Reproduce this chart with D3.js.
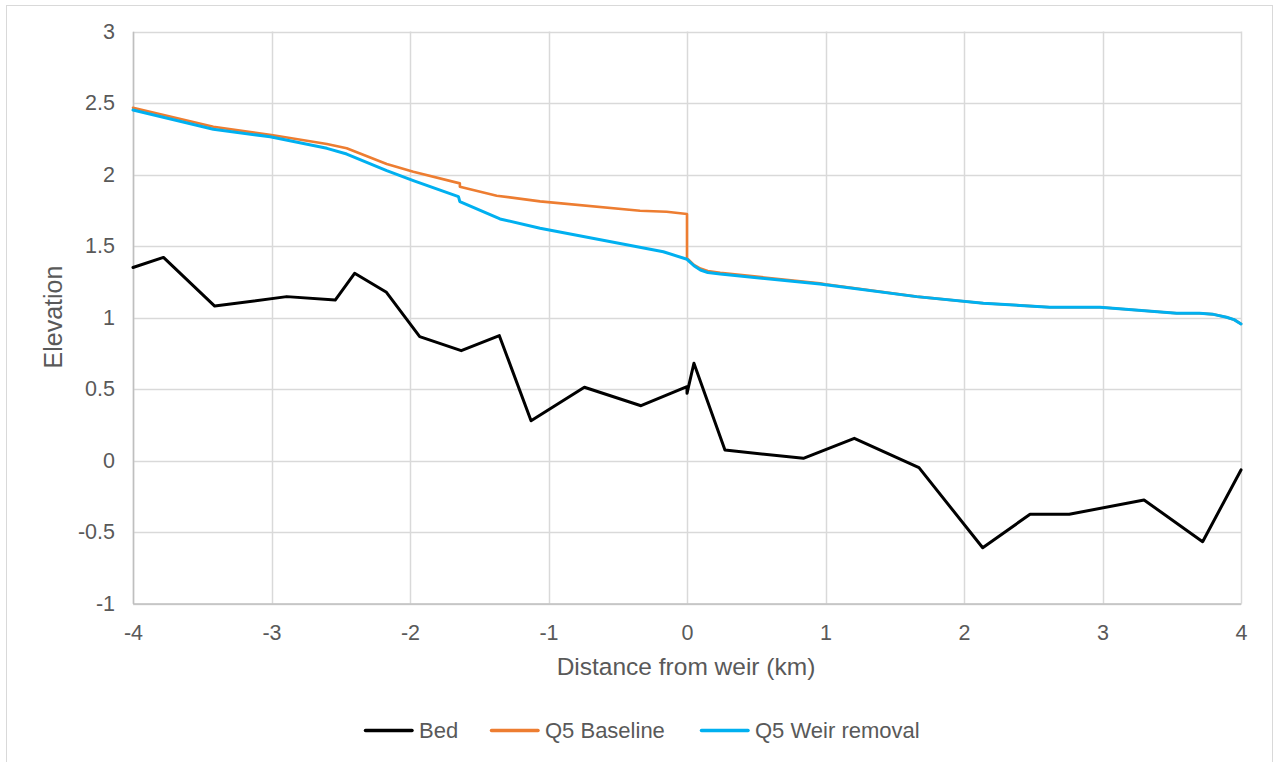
<!DOCTYPE html>
<html>
<head>
<meta charset="utf-8">
<script src="https://cdn.jsdelivr.net/npm/d3@7"></script>
<style>
  html, body { margin: 0; padding: 0; background: #fff; }
  svg { display: block; }
  text { font-family: "Liberation Sans", Arial, sans-serif; fill: #595959; }
</style>
</head>
<body>
<svg id="chart" width="1274" height="762"></svg>
<script>
// Longitudinal profile around the weir (distance in km, elevation in m)
const bedX = [-4, -3.78, -3.41, -2.89, -2.54, -2.40, -2.17, -1.93, -1.63, -1.355, -1.126, -0.741, -0.332, 0.0, 0.0, 0.05, 0.274, 0.84, 1.208, 1.675, 2.135, 2.477, 2.76, 3.30, 3.723, 4.0];
const bedY = [1.35, 1.42, 1.08, 1.146, 1.122, 1.309, 1.176, 0.866, 0.768, 0.873, 0.278, 0.512, 0.383, 0.516, 0.47, 0.68, 0.073, 0.015, 0.155, -0.05, -0.61, -0.376, -0.376, -0.276, -0.568, -0.066];

const baseX = [-4, -3.42, -3.0, -2.60, -2.457, -2.168, -1.976, -1.64, -1.64, -1.374, -1.061, -0.339, -0.147, 0, 0, 0.05, 0.097, 0.15, 0.24, 0.96, 1.0, 1.658, 2.14, 2.62, 2.982, 3.535, 3.70, 3.80, 3.896, 3.95, 4.0];
const baseY = [2.467, 2.334, 2.276, 2.213, 2.183, 2.073, 2.02, 1.938, 1.915, 1.852, 1.812, 1.747, 1.740, 1.724, 1.414, 1.368, 1.342, 1.325, 1.312, 1.240, 1.233, 1.146, 1.1, 1.072, 1.072, 1.03, 1.03, 1.022, 1.002, 0.985, 0.955];

const weirX = [-4, -3.42, -3.01, -2.60, -2.457, -2.168, -1.976, -1.65, -1.64, -1.35, -1.061, -0.171, 0, 0.05, 0.097, 0.15, 0.24, 0.96, 1.0, 1.658, 2.14, 2.62, 2.982, 3.535, 3.70, 3.80, 3.896, 3.95, 4.0];
const weirY = [2.451, 2.316, 2.264, 2.183, 2.143, 2.027, 1.957, 1.845, 1.81, 1.689, 1.624, 1.46, 1.407, 1.362, 1.332, 1.315, 1.304, 1.234, 1.229, 1.146, 1.1, 1.072, 1.072, 1.03, 1.03, 1.022, 1.002, 0.985, 0.955];

const xTicks = [-4, -3, -2, -1, 0, 1, 2, 3, 4];
const yTicks = [-1, -0.5, 0, 0.5, 1, 1.5, 2, 2.5, 3];

const seriesNames = ["Bed", "Q5 Baseline", "Q5 Weir removal"];
const seriesColors = ["#000000", "#ED7D31", "#00B0F0"];

const svg = d3.select("#chart");

// Chart frame
svg.append("rect")
  .attr("x", 6.5).attr("y", 5.5)
  .attr("width", 1266).attr("height", 780)
  .attr("fill", "#fff").attr("stroke", "#d9d9d9").attr("stroke-width", 1);

const plot = { left: 133, right: 1241, top: 31.5, bottom: 603.5 };

const x = d3.scaleLinear().domain([-4, 4]).range([plot.left, plot.right]);
const y = d3.scaleLinear().domain([-1, 3]).range([plot.bottom, plot.top]);

// Gridlines
const grid = svg.append("g");
grid.selectAll(".gx").data(xTicks).join("line")
  .attr("x1", d => Math.round(x(d)) + 0.5).attr("x2", d => Math.round(x(d)) + 0.5)
  .attr("y1", plot.top).attr("y2", plot.bottom)
  .attr("stroke", "#d9d9d9").attr("stroke-width", 1.5);
grid.selectAll(".gy").data(yTicks).join("line")
  .attr("y1", d => Math.round(y(d)) + 0.5).attr("y2", d => Math.round(y(d)) + 0.5)
  .attr("x1", plot.left).attr("x2", plot.right)
  .attr("stroke", "#d9d9d9").attr("stroke-width", 1.5);

// Axes: tick labels plus plain axis lines, no tick marks
const xAxis = svg.append("g")
  .attr("transform", `translate(0,${plot.bottom})`)
  .call(d3.axisBottom(x).tickValues(xTicks).tickSize(0).tickPadding(21).tickFormat(d => String(d)));
xAxis.select(".domain").attr("stroke", "#bfbfbf").attr("stroke-width", 1.5);
xAxis.selectAll("text").style("font-size", "21.5px").attr("fill", "#595959")
  .attr("font-family", "Liberation Sans, Arial, sans-serif");

const yAxis = svg.append("g")
  .attr("transform", `translate(${plot.left},0)`)
  .call(d3.axisLeft(y).tickValues(yTicks).tickSize(0).tickPadding(18).tickFormat(d => String(d)));
yAxis.select(".domain").attr("stroke", "#bfbfbf").attr("stroke-width", 1.5);
yAxis.selectAll("text").style("font-size", "21.5px").attr("fill", "#595959")
  .attr("font-family", "Liberation Sans, Arial, sans-serif");

// Series lines
const series = [
  { xs: bedX, ys: bedY, width: 3 },
  { xs: baseX, ys: baseY, width: 2.6 },
  { xs: weirX, ys: weirY, width: 3 }
];
const line = d3.line().x(d => x(d[0])).y(d => y(d[1]));
series.forEach((s, i) => {
  const pts = s.xs.map((v, k) => [v, s.ys[k]]);
  svg.append("path")
    .datum(pts)
    .attr("d", line)
    .attr("fill", "none")
    .attr("stroke", seriesColors[i])
    .attr("stroke-width", s.width)
    .attr("stroke-linejoin", "round")
    .attr("stroke-linecap", "round");
});

// Axis titles
svg.append("text")
  .attr("x", 686).attr("y", 675)
  .attr("text-anchor", "middle")
  .style("font-size", "24.5px")
  .text("Distance from weir (km)");

svg.append("text")
  .attr("transform", "translate(62,317) rotate(-90)")
  .attr("text-anchor", "middle")
  .style("font-size", "25px")
  .text("Elevation");

// Legend
const legendItems = [
  { lx: 364, tx: 419 },
  { lx: 490, tx: 545 },
  { lx: 700, tx: 755 }
];
const legend = svg.append("g");
legendItems.forEach((it, i) => {
  legend.append("line")
    .attr("x1", it.lx + 1.5).attr("x2", it.lx + 48)
    .attr("y1", 730.5).attr("y2", 730.5)
    .attr("stroke", seriesColors[i]).attr("stroke-width", 3.5)
    .attr("stroke-linecap", "round");
  legend.append("text")
    .attr("x", it.tx).attr("y", 738)
    .style("font-size", "22px")
    .text(seriesNames[i]);
});
</script>
</body>
</html>
